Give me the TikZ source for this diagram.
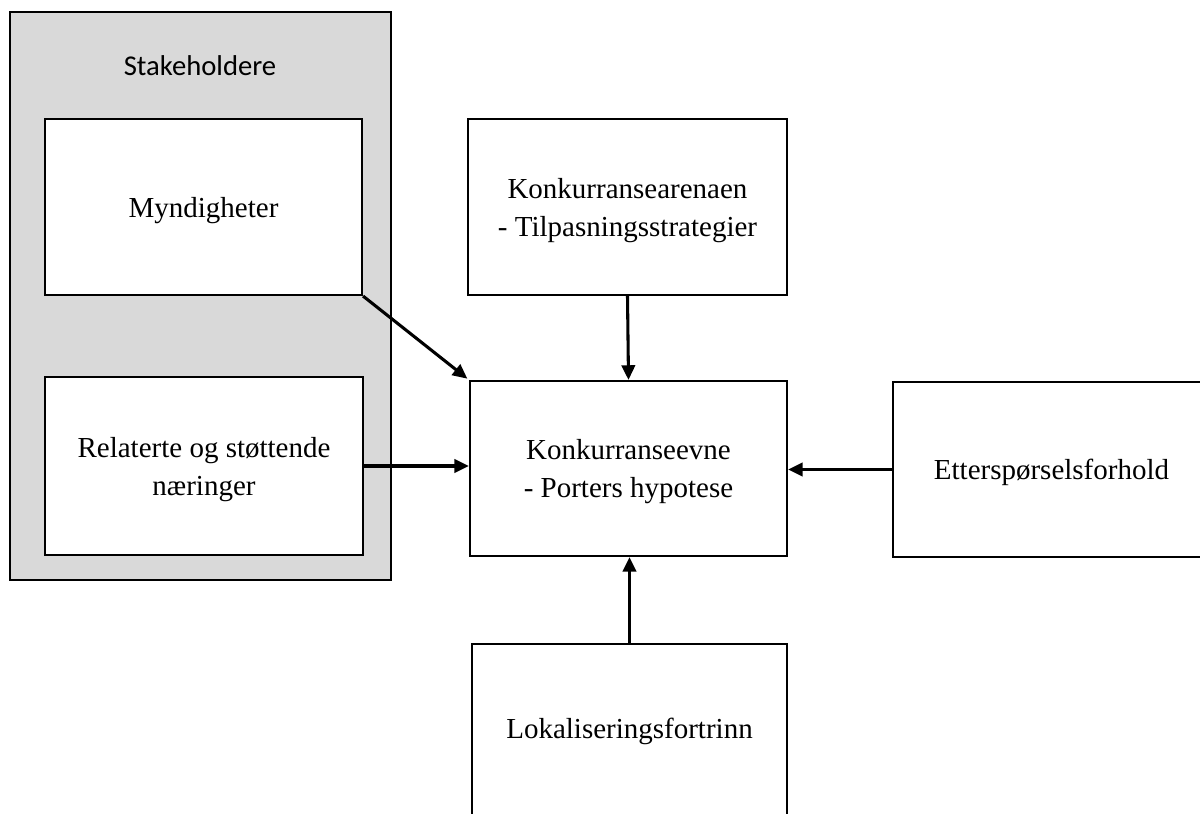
\documentclass[tikz,border=0pt]{standalone}
\usepackage{fontspec}
\setmainfont{Liberation Serif}
\newfontfamily\calibrifont{Carlito}
\usetikzlibrary{arrows.meta}
\definecolor{groupgray}{HTML}{D9D9D9}
\begin{document}
\begin{tikzpicture}[x=0.75pt,y=-0.75pt,
  box/.style={draw=black, line width=1.6pt, fill=white, align=center,
    font=\fontsize{21.75}{28.5}\selectfont, inner sep=0pt, text depth=0pt},
  link/.style={line width=2.3pt, -{Triangle[length=11pt,width=10pt]}}]
\useasboundingbox (0,0) rectangle (1200,814);
\clip (0,0) rectangle (1200,814);

% stakeholder group
\node[draw=black, line width=1.8pt, fill=groupgray, minimum width=381*0.75pt,
  minimum height=568*0.75pt, inner sep=0pt] (grp) at (200.5,296) {};
\node[font=\calibrifont\fontsize{21.5}{26}\selectfont] (grptitle) at (200,66) {Stakeholdere};

% boxes
\node[box, minimum width=317*0.75pt, minimum height=176*0.75pt] (myn) at (203.5,207) {Myndigheter};
\node[box, minimum width=318*0.75pt, minimum height=178*0.75pt] (rel) at (204,466) {Relaterte og støttende\\næringer};
\node[box, minimum width=319*0.75pt, minimum height=176*0.75pt] (konk) at (627.5,207) {Konkurransearenaen\\- Tilpasningsstrategier};
\node[box, minimum width=317*0.75pt, minimum height=175*0.75pt] (cen) at (628.5,468.5) {Konkurranseevne\\- Porters hypotese};
\node[box, minimum width=317*0.75pt, minimum height=175*0.75pt] (ett) at (1051.5,469.5) {Etterspørselsforhold};
\node[box, text depth=, minimum width=315*0.75pt, minimum height=175*0.75pt] (lok) at (629.5,731.5) {Lokaliseringsfortrinn};

% influences on competitiveness
\draw[link, shorten >=1.5pt] (myn.south east) -- (cen.north west);
\draw[link] (rel.east) -- (cen.west |- rel.east);
\draw[link] (konk.south) -- (cen.north);
\draw[link] (ett.west) -- (cen.east |- ett.west);
\draw[link] (lok.north) -- (cen.south -| lok.north);
\end{tikzpicture}
\end{document}
